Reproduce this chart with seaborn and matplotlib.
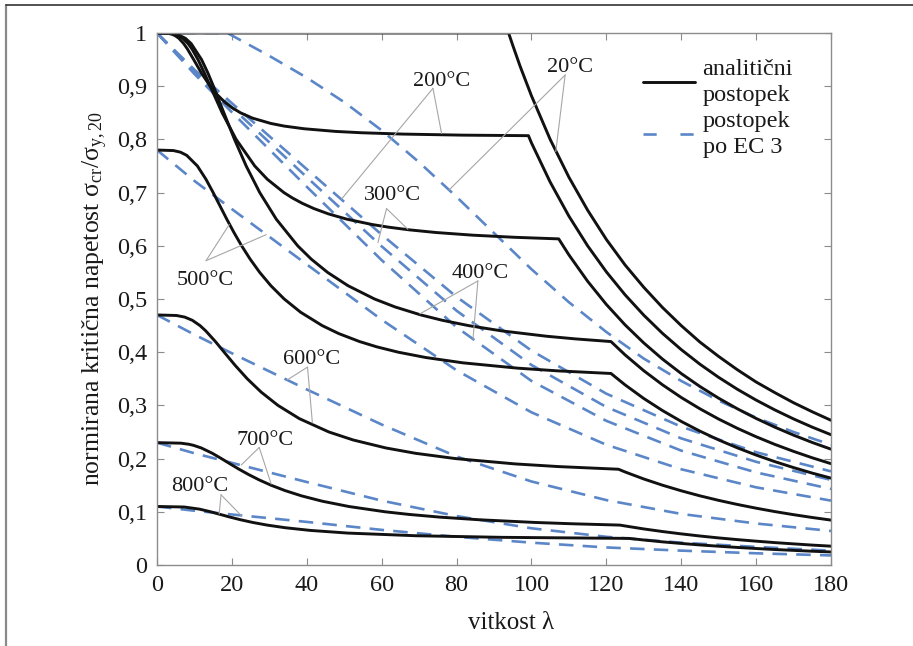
import matplotlib
matplotlib.use("Agg")
import matplotlib.pyplot as plt
from matplotlib.lines import Line2D
from matplotlib.ticker import FixedLocator, FuncFormatter
import pandas as pd
import seaborn as sns

# ---------------------------------------------------------------------------
# Data: normalised critical stress sigma_cr / sigma_y,20 versus slenderness
# ---------------------------------------------------------------------------
TEMPS = ["20°C", "200°C", "300°C", "400°C", "500°C", "600°C", "700°C", "800°C"]

# analytical (tangent-modulus) procedure
AN_20_X = [0, 93.9, 95, 97, 100, 105, 110, 115, 120, 125, 130, 135, 140, 145, 150, 155,
           160, 165, 170, 175, 180]
AN_20_Y = [1.0, 1.0, 0.977, 0.937, 0.882, 0.800, 0.729, 0.667, 0.612, 0.564, 0.522,
           0.484, 0.450, 0.419, 0.392, 0.367, 0.344, 0.324, 0.305, 0.288, 0.272]

AN_200_X = [0, 1.84, 2.71, 3.2, 4.06, 4.85, 5.85, 7.13, 8.12, 9.8, 11.84, 14.2, 15.93,
            18.1, 19.95, 22.3, 25.5, 30.4, 34.0, 39.3, 47.7, 54.6, 65.6, 81.6, 99.2,
            100, 105, 110, 115, 120, 125, 130, 135, 140, 145, 150, 155, 160, 165, 170,
            175, 180]
AN_200_Y = [1.0, 0.9999, 0.9995, 0.999, 0.9975, 0.995, 0.99, 0.98, 0.97, 0.95, 0.925,
            0.90, 0.885, 0.87, 0.86, 0.85, 0.84, 0.83, 0.825, 0.82, 0.815, 0.8125, 0.81,
            0.808, 0.807, 0.7935, 0.7198, 0.6558, 0.6000, 0.5511, 0.5079, 0.4696, 0.4354,
            0.4049, 0.3774, 0.3527, 0.3303, 0.3100, 0.2915, 0.2746, 0.2591, 0.2449]

AN_300_X = [0, 3.8, 5.04, 6.88, 8.31, 9.34, 10.95, 12.64, 14.21, 17.40, 21.14, 26.11,
            29.47, 33.90, 36.14, 38.76, 41.9, 45.77, 50.73, 57.45, 61.86, 67.35, 74.47,
            84.26, 95.45, 107.28, 110, 115, 120, 125, 130, 135, 140, 145, 150, 155, 160,
            165, 170, 175, 180]
AN_300_Y = [1.0, 0.999, 0.997, 0.99, 0.98, 0.97, 0.95, 0.925, 0.90, 0.85, 0.80, 0.75,
            0.725, 0.70, 0.69, 0.68, 0.67, 0.66, 0.65, 0.64, 0.635, 0.63, 0.625, 0.62,
            0.616, 0.613, 0.5830, 0.5334, 0.4898, 0.4514, 0.4174, 0.3870, 0.3599, 0.3355,
            0.3135, 0.2936, 0.2755, 0.2591, 0.2441, 0.2303, 0.2177]

AN_400_X = [0, 4.2, 5.58, 7.59, 9.13, 11.9, 13.58, 15.06, 17.86, 20.7, 23.82, 27.44,
            31.86, 37.57, 41.19, 45.56, 51.01, 58.1, 63.6, 70.48, 76.18, 83.2, 92.12,
            104.05, 111.76, 121.24, 125, 130, 135, 140, 145, 150, 155, 160, 165, 170,
            175, 180]
AN_400_Y = [1.0, 0.999, 0.997, 0.99, 0.98, 0.95, 0.925, 0.90, 0.85, 0.80, 0.75, 0.70,
            0.65, 0.60, 0.575, 0.55, 0.525, 0.50, 0.485, 0.47, 0.46, 0.45, 0.44, 0.43,
            0.425, 0.42, 0.3950, 0.3652, 0.3387, 0.3149, 0.2936, 0.2743, 0.2569, 0.2411,
            0.2267, 0.2136, 0.2015, 0.1905]

AN_500_X = [0, 4.4, 6.26, 7.94, 10.79, 13.08, 15.0, 16.82, 18.64, 20.55, 22.6, 24.87,
            27.43, 30.41, 33.97, 38.38, 44.12, 48.54, 54.1, 58.73, 64.45, 71.79, 81.7,
            96.31, 106.81, 121.24, 125, 130, 135, 140, 145, 150, 155, 160, 165, 170,
            175, 180]
AN_500_Y = [0.78, 0.779, 0.776, 0.77, 0.75, 0.725, 0.70, 0.675, 0.65, 0.625, 0.60,
            0.575, 0.55, 0.525, 0.50, 0.475, 0.45, 0.435, 0.42, 0.41, 0.40, 0.39, 0.38,
            0.37, 0.365, 0.36, 0.3386, 0.3130, 0.2903, 0.2699, 0.2516, 0.2351, 0.2202,
            0.2067, 0.1943, 0.1831, 0.1727, 0.1633]

AN_600_X = [0, 5.19, 7.40, 9.43, 11.49, 13.03, 15.6, 17.94, 20.9, 24.11, 27.82, 32.31,
            38.05, 45.92, 52.39, 61.12, 69.01, 79.75, 95.67, 107.22, 123.25, 125, 130,
            135, 140, 145, 150, 155, 160, 165, 170, 175, 180]
AN_600_Y = [0.47, 0.469, 0.466, 0.46, 0.45, 0.44, 0.42, 0.40, 0.375, 0.35, 0.325, 0.30,
            0.275, 0.25, 0.235, 0.22, 0.21, 0.20, 0.19, 0.185, 0.18, 0.1749, 0.1617,
            0.1500, 0.1395, 0.1300, 0.1215, 0.1138, 0.1068, 0.1004, 0.0946, 0.0893, 0.0844]

AN_700_X = [0, 6.37, 8.48, 9.72, 11.83, 14.77, 17.21, 19.54, 21.92, 24.47, 27.27, 30.45,
            34.15, 38.58, 44.08, 51.2, 60.94, 67.39, 75.5, 86.13, 100.9, 110.88, 123.64,
            125, 130, 135, 140, 145, 150, 155, 160, 165, 170, 175, 180]
AN_700_Y = [0.23, 0.229, 0.227, 0.225, 0.22, 0.21, 0.20, 0.19, 0.18, 0.17, 0.16, 0.15,
            0.14, 0.13, 0.12, 0.11, 0.10, 0.095, 0.09, 0.085, 0.08, 0.0775, 0.075, 0.0734,
            0.0678, 0.0629, 0.0585, 0.0545, 0.0509, 0.0477, 0.0448, 0.0421, 0.0397,
            0.0374, 0.0354]

AN_800_X = [0, 7.27, 11.36, 14.33, 19.52, 22.34, 25.56, 29.42, 34.32, 40.96, 50.96,
            69.16, 92.03, 126.0, 130, 135, 140, 145, 150, 155, 160, 165, 170, 175, 180]
AN_800_Y = [0.11, 0.109, 0.105, 0.10, 0.09, 0.085, 0.08, 0.075, 0.07, 0.065, 0.06,
            0.055, 0.052, 0.05, 0.0470, 0.0435, 0.0405, 0.0377, 0.0353, 0.0330, 0.0310,
            0.0291, 0.0275, 0.0259, 0.0245]

# EC 3 procedure
EC3_20_X = [0, 18.8, 30, 40, 50, 60, 70, 80, 90, 100, 110, 120, 130, 140, 150, 160, 170, 180]
EC3_20_Y = [1.0, 1.0, 0.957, 0.916, 0.870, 0.817, 0.757, 0.692, 0.624, 0.556, 0.494, 0.438,
            0.388, 0.346, 0.309, 0.277, 0.250, 0.226]

EC3_X = [0, 10, 20, 40, 60, 80, 100, 120, 140, 160, 180]
EC3_200_Y = [1.0, 0.931, 0.868, 0.744, 0.621, 0.504, 0.403, 0.322, 0.260, 0.212, 0.176]
EC3_300_Y = [1.0, 0.927, 0.860, 0.729, 0.599, 0.478, 0.376, 0.297, 0.238, 0.194, 0.160]
EC3_400_Y = [1.0, 0.923, 0.851, 0.711, 0.573, 0.447, 0.346, 0.271, 0.215, 0.174, 0.143]
EC3_500_Y = [0.78, 0.722, 0.669, 0.565, 0.461, 0.366, 0.287, 0.226, 0.180, 0.146, 0.121]
EC3_600_Y = [0.47, 0.433, 0.398, 0.330, 0.264, 0.204, 0.157, 0.122, 0.096, 0.078, 0.064]
EC3_700_Y = [0.23, 0.210, 0.192, 0.156, 0.121, 0.092, 0.069, 0.053, 0.042, 0.034, 0.027]
EC3_800_Y = [0.11, 0.102, 0.095, 0.081, 0.066, 0.053, 0.042, 0.033, 0.027, 0.022, 0.018]

X_TICKS = [0, 20, 40, 60, 80, 100, 120, 140, 160, 180]
Y_TICKS = [0, 0.1, 0.2, 0.3, 0.4, 0.5, 0.6, 0.7, 0.8, 0.9, 1.0]

METHOD_AN = "analitični postopek"
METHOD_EC = "postopek po EC 3"

analytic = {
    "20°C": (AN_20_X, AN_20_Y), "200°C": (AN_200_X, AN_200_Y),
    "300°C": (AN_300_X, AN_300_Y), "400°C": (AN_400_X, AN_400_Y),
    "500°C": (AN_500_X, AN_500_Y), "600°C": (AN_600_X, AN_600_Y),
    "700°C": (AN_700_X, AN_700_Y), "800°C": (AN_800_X, AN_800_Y),
}
ec3 = {
    "20°C": (EC3_20_X, EC3_20_Y), "200°C": (EC3_X, EC3_200_Y),
    "300°C": (EC3_X, EC3_300_Y), "400°C": (EC3_X, EC3_400_Y),
    "500°C": (EC3_X, EC3_500_Y), "600°C": (EC3_X, EC3_600_Y),
    "700°C": (EC3_X, EC3_700_Y), "800°C": (EC3_X, EC3_800_Y),
}

frames = []
for method, table in ((METHOD_EC, ec3), (METHOD_AN, analytic)):
    for t in TEMPS:
        xs, ys = table[t]
        frames.append(pd.DataFrame({"lam": xs, "ratio": ys, "method": method,
                                    "curve": f"{method} {t}"}))
df = pd.concat(frames, ignore_index=True)

# ---------------------------------------------------------------------------
# Style
# ---------------------------------------------------------------------------
sns.set_style("ticks")
plt.rcParams["font.family"] = ["Liberation Serif", "DejaVu Serif"]
plt.rcParams["mathtext.fontset"] = "custom"
plt.rcParams["mathtext.rm"] = "Liberation Serif"
plt.rcParams["mathtext.it"] = "Liberation Serif:italic"

BLACK = "#111111"
BLUE = "#5b86c8"
GREY = "#8c8c8c"
TEXT = "#1a1a1a"

fig = plt.figure(figsize=(9.13, 6.46), dpi=100)
ax = fig.add_axes([157 / 913, 1 - 565 / 646, 674 / 913, 532 / 646])

sns.lineplot(
    data=df[df["method"] == METHOD_EC], x="lam", y="ratio", units="curve",
    estimator=None, sort=False, color=BLUE, dashes=False,
    linestyle=(0, (5.5, 3.5)), linewidth=1.9, legend=False, ax=ax,
)
sns.lineplot(
    data=df[df["method"] == METHOD_AN], x="lam", y="ratio", units="curve",
    estimator=None, sort=False, color=BLACK, linewidth=2.1, legend=False, ax=ax,
)

ax.set_xlim(0, 180)
ax.set_ylim(0, 1)
ax.xaxis.set_major_locator(FixedLocator(X_TICKS))
ax.yaxis.set_major_locator(FixedLocator(Y_TICKS))
ax.xaxis.set_major_formatter(FuncFormatter(lambda v, p: f"{v:g}"))
ax.yaxis.set_major_formatter(FuncFormatter(lambda v, p: f"{v:g}".replace(".", ",")))
ax.tick_params(direction="in", length=5, width=0.8, color=GREY, labelsize=17.5,
               labelcolor=TEXT, top=True, right=True, pad=7)
for sp in ax.spines.values():
    sp.set_color(GREY)
    sp.set_linewidth(1.0)

ax.set_xlabel("vitkost λ", fontsize=18, color=TEXT)
ax.set_ylabel("normirana kritična napetost σ$_{\\mathrm{cr}}$/σ$_{\\mathrm{y,20}}$",
              fontsize=18.5, color=TEXT)
ax.xaxis.set_label_coords(0.525, -0.088)
ax.yaxis.set_label_coords(-0.07, 0.5)

# temperature labels (baseline position) with leader lines to both curves
LABELS = [
    ("20°C", (110.3, 0.926), (109.0, 0.921), [(106.5, 0.777), (78.0, 0.705)]),
    ("200°C", (76.1, 0.901), (73.7, 0.896), [(76.0, 0.811), (49.3, 0.688)]),
    ("300°C", (63.0, 0.687), (61.3, 0.670), [(67.0, 0.631), (59.0, 0.606)]),
    ("400°C", (86.3, 0.540), (85.7, 0.534), [(70.2, 0.472), (84.4, 0.425)]),
    ("500°C", (12.8, 0.527), (13.1, 0.572), [(19.3, 0.640), (29.2, 0.621)]),
    ("600°C", (41.4, 0.377), (40.2, 0.372), [(34.8, 0.348), (41.5, 0.267)]),
    ("700°C", (28.8, 0.225), (27.3, 0.221), [(22.5, 0.188), (30.5, 0.152)]),
    ("800°C", (11.5, 0.140), (17.1, 0.132), [(16.6, 0.096), (22.5, 0.093)]),
]
for text, pos, apex, ends in LABELS:
    ax.text(pos[0], pos[1], text, fontsize=16, color=TEXT,
            ha="center", va="baseline", zorder=5)
    for end in ends:
        ax.annotate("", xy=end, xytext=apex,
                    arrowprops=dict(arrowstyle="-", color="#a6a6a6", lw=0.8,
                                    shrinkA=0, shrinkB=0))

handles = [Line2D([], [], color=BLACK, lw=2.1),
           Line2D([], [], color=BLUE, lw=1.9, dashes=(5, 9))]
leg = ax.legend(handles, ["analitični\npostopek", "postopek\npo EC 3"],
                loc="upper left", bbox_to_anchor=(0.721, 0.951), frameon=False,
                handlelength=2.15, handletextpad=0.3, labelspacing=0.2,
                borderpad=0, borderaxespad=0, fontsize=17.5, labelcolor=TEXT)
for t in leg.get_texts():
    t.set_linespacing(1.32)

# page frame (left and top edges)
fig.add_artist(Line2D([6 / 913, 6 / 913], [0, 1 - 5 / 646], color="#8a8a8a", lw=1.6,
                      transform=fig.transFigure))
fig.add_artist(Line2D([6 / 913, 1], [1 - 5 / 646, 1 - 5 / 646], color="#333333", lw=1.2,
                      transform=fig.transFigure))

fig.savefig("out.png", dpi=100)
